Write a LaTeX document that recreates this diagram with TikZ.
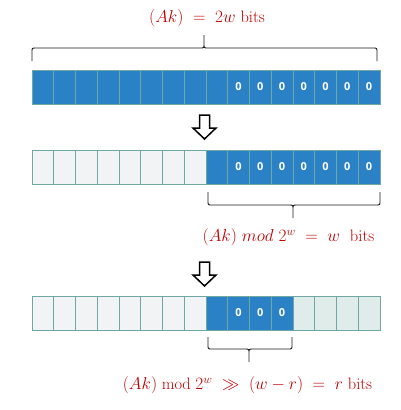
\documentclass[tikz,border=0pt]{standalone}
\usepackage{fontspec}
\newfontfamily\zerofont{Open Sans}
\definecolor{cellblue}{HTML}{2A81C6}
\definecolor{cellgray}{HTML}{F2F3F4}
\definecolor{cellteal}{HTML}{E0ECEA}
\definecolor{cellline}{HTML}{6FA8A2}
\definecolor{lblred}{HTML}{C00000}
\newcommand\drawbrace[8]{%
  % #1 x1, #2 x2, #3 xm, #4 yend, #5 yflat, #6 ytip, #7 y near flat (end side), #8 y near flat (tip side)
  \draw[bracestyle] (#1,#4) -- (#1,#7) .. controls (#1,#5) .. (#1+4,#5) -- (#3-4,#5)
    .. controls (#3,#5) .. (#3,#8) -- (#3,#6) -- (#3,#8)
    .. controls (#3,#5) .. (#3+4,#5) -- (#2-4,#5) .. controls (#2,#5) .. (#2,#7) -- (#2,#4);
}
\newcommand\hollowarrow[2]{%
  % #1 centre x, #2 top y
  \draw[arrowstyle] (#1-5,#2) -- (#1+5,#2) -- (#1+5,#2+13) -- (#1+11.5,#2+13) -- (#1,#2+24)
    -- (#1-11.5,#2+13) -- (#1-5,#2+13) -- cycle;
}
\begin{document}
\begin{tikzpicture}[x=1pt,y=-1pt,
  cell/.style={draw=cellline, line width=0.9pt, minimum width=21.75pt, minimum height=34pt,
    inner sep=0pt, outer sep=0pt, anchor=center, text=white,
    font=\zerofont\bfseries\fontsize{11}{13}\selectfont},
  lbl/.style={text=lblred, inner sep=0pt, font=\fontsize{16.5}{19}\selectfont},
  bracestyle/.style={draw=black!90, line width=0.9pt},
  arrowstyle/.style={draw=black, fill=white, line width=1.5pt, line join=miter}]
\useasboundingbox (0,0) rectangle (400,410);

% row 1
\foreach \i in {0,...,15}{
  \pgfmathsetmacro\cx{32+21.75*(\i+0.5)}
  \ifnum\i>8 \def\celltxt{0}\else\def\celltxt{}\fi
  \node[cell, fill=cellblue] (a\i) at (\cx,87) {\celltxt};
}
% row 2
\foreach \i in {0,...,15}{
  \pgfmathsetmacro\cx{32+21.75*(\i+0.5)}
  \ifnum\i>8 \def\celltxt{0}\else\def\celltxt{}\fi
  \ifnum\i<8 \def\cellfill{cellgray}\else\def\cellfill{cellblue}\fi
  \node[cell, fill=\cellfill] (b\i) at (\cx,167) {\celltxt};
}
% row 3
\foreach \i in {0,...,15}{
  \pgfmathsetmacro\cx{32+21.75*(\i+0.5)}
  \def\celltxt{}
  \ifnum\i>8 \ifnum\i<12 \def\celltxt{0}\fi\fi
  \ifnum\i<8 \def\cellfill{cellgray}\else\ifnum\i<12 \def\cellfill{cellblue}\else\def\cellfill{cellteal}\fi\fi
  \node[cell, fill=\cellfill] (c\i) at (\cx,313) {\celltxt};
}
% redraw blue cells' borders on top
\foreach \i in {8,...,15}{ \draw[draw=cellline, line width=0.9pt] (b\i.south west) rectangle (b\i.north east); }
\foreach \i in {8,...,11}{ \draw[draw=cellline, line width=0.9pt] (c\i.south west) rectangle (c\i.north east); }

% braces
\drawbrace{32}{377}{204}{61}{48}{35}{52}{44}
\drawbrace{208}{380}{293}{192}{205}{218}{201}{209}
\drawbrace{208}{292}{249}{337}{349}{362}{345}{353}

% arrows
\hollowarrow{204.5}{115}
\hollowarrow{204.5}{262}

% labels
\node[lbl] (l1) at (207,18) {$(Ak)\;=\;2w$ bits};
\node[lbl] (l2) at (288.5,237) {$(Ak)\ mod\ 2^w\;=\;w$\ \ bits};
\node[lbl] (l3) at (247.5,385) {$(Ak)\bmod 2^w \;\gg\; (w-r) \;=\; r$ bits};
\end{tikzpicture}
\end{document}
